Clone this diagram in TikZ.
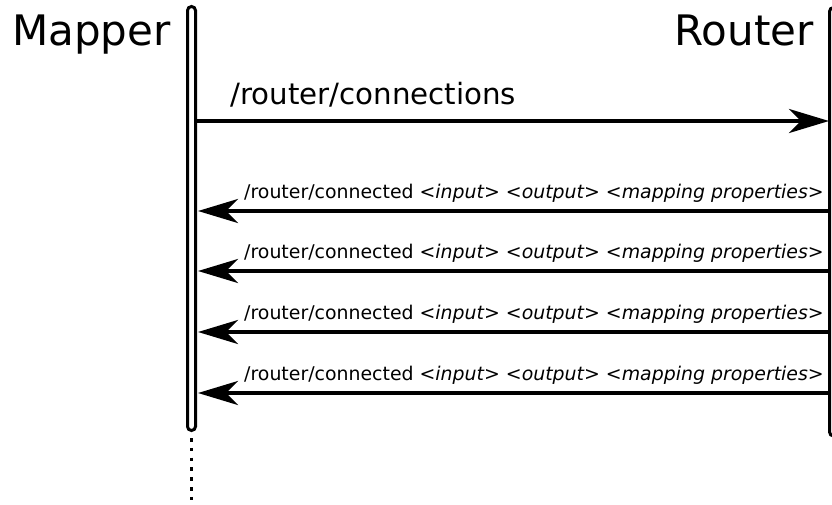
\documentclass[tikz,border=0pt]{standalone}
\usepackage{fontspec}
\setmainfont{DejaVu Sans}
\usetikzlibrary{arrows.meta}
\begin{document}
\begin{tikzpicture}[x=1pt,y=-1pt,
  msgline/.style={line width=4.4pt,-{Stealth[length=40pt,width=24pt,inset=12pt]}},
  lifebox/.style={line width=3pt,rounded corners=4pt},
  biglabel/.style={font=\fontsize{42}{46}\selectfont,inner sep=0pt},
  midlabel/.style={font=\fontsize{29.3}{32}\selectfont,inner sep=0pt,anchor=base west},
  smalllabel/.style={font=\fontsize{18.9}{21}\selectfont,inner sep=0pt,anchor=base west}]
\useasboundingbox (0,0) rectangle (832,504);
\clip (0,0) rectangle (832,504);
% actors
\node[biglabel,anchor=base west] (mapper) at (12,45) {Mapper};
\node[biglabel,anchor=base east] (router) at (814,45) {Router};
% lifelines
\draw[lifebox] (187.5,430.5) rectangle (195.5,6.5);
\draw[lifebox] (829.5,436) rectangle (845,7.5);
\coordinate (mapbot) at (191.5,432);
\coordinate (mapend) at (191.5,504);
\draw[line width=3.6pt,dash pattern=on 3.6pt off 6.2pt] (mapbot) ++(0,6) -- (mapend);
% message endpoints
\coordinate (m0) at (197,121); \coordinate (r0) at (829,121);
\coordinate (m1) at (198,211); \coordinate (r1) at (829,211);
\coordinate (m2) at (198,271); \coordinate (r2) at (829,271);
\coordinate (m3) at (198,332); \coordinate (r3) at (829,332);
\coordinate (m4) at (198,393); \coordinate (r4) at (829,393);
% messages
\draw[msgline] (m0) -- (r0);
\node[midlabel] (l0) at (230,104) {/router/connections};
\foreach \i/\y in {1/198,2/258,3/319,4/380}{
  \draw[msgline] (r\i) -- (m\i);
  \node[smalllabel] (l\i) at (244,\y) {/router/connected \textit{<input>} \textit{<output>} \textit{<mapping properties>}};
}
\end{tikzpicture}
\end{document}
